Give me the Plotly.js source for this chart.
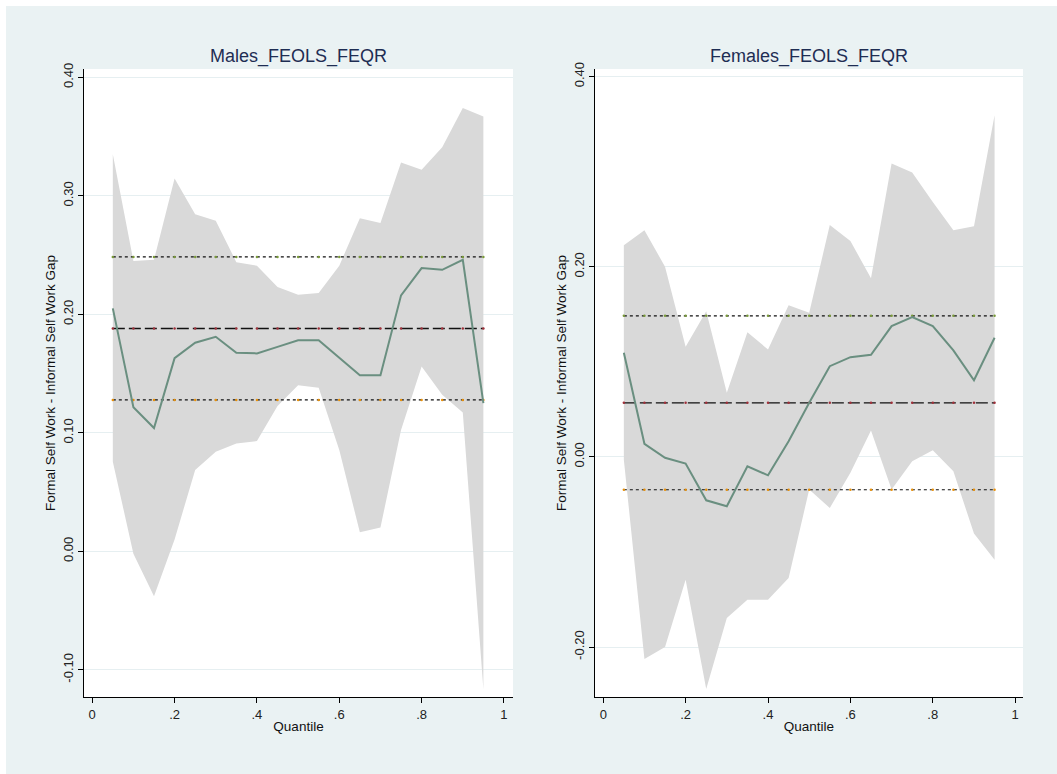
<!DOCTYPE html>
<html>
<head>
<meta charset="utf-8">
<script src="https://cdn.plot.ly/plotly-3.0.1.min.js"></script>
<style>
html,body{margin:0;padding:0;background:#ffffff;width:1057px;height:774px;overflow:hidden;}
#chart{position:absolute;left:6px;top:6px;width:1051px;height:768px;}
</style>
</head>
<body>
<div id="chart"></div>
<script>
// Quantiles
const quantiles = [0.05,0.10,0.15,0.20,0.25,0.30,0.35,0.40,0.45,0.50,0.55,0.60,0.65,0.70,0.75,0.80,0.85,0.90,0.95];

// Males
const malesEst   = [0.205,0.1215,0.104,0.163,0.176,0.181,0.1675,0.167,0.1725,0.178,0.178,0.163,0.1485,0.1485,0.216,0.239,0.2375,0.246,0.125];
const malesUpper = [0.335,0.245,0.246,0.3145,0.2845,0.279,0.244,0.241,0.223,0.2165,0.218,0.241,0.281,0.277,0.328,0.322,0.341,0.374,0.367];
const malesLower = [0.0756,-0.002,-0.038,0.010,0.0686,0.084,0.091,0.093,0.1226,0.140,0.138,0.0855,0.016,0.020,0.1024,0.156,0.132,0.117,-0.1165];
const malesOLS   = [0.1880];
const malesOLSLo = [0.1277];
const malesOLSHi = [0.2484];

// Females
const femalesEst   = [0.1095,0.0137,-0.001,-0.007,-0.0457,-0.052,-0.010,-0.0194,0.0164,0.057,0.0954,0.1049,0.1074,0.1375,0.147,0.1375,0.112,0.0806,0.1253];
const femalesUpper = [0.2227,0.2385,0.200,0.1158,0.1533,0.0674,0.1312,0.113,0.1596,0.1516,0.2438,0.227,0.188,0.3087,0.299,0.268,0.2385,0.2427,0.3593];
const femalesLower = [-0.003,-0.2126,-0.200,-0.1292,-0.2442,-0.1695,-0.1502,-0.1502,-0.1274,-0.0344,-0.0537,-0.0168,0.0277,-0.0344,-0.0046,0.007,-0.0152,-0.0807,-0.1081];
const femalesOLS   = [0.0568];
const femalesOLSLo = [-0.0346];
const femalesOLSHi = [0.1484];

// Tick labels
const xTickVals = [0,0.2,0.4,0.6,0.8,1];
const xTickText = ['0','.2','.4','.6','.8','1'];
const malesYTicks = [-0.10,0.00,0.10,0.20,0.30,0.40];
const malesYText = ['-0.10','0.00','0.10','0.20','0.30','0.40'];
const femalesYTicks = [-0.20,0.00,0.20,0.40];
const femalesYText = ['-0.20','0.00','0.20','0.40'];

const panelTitles = ['Males_FEOLS_FEQR','Females_FEOLS_FEQR'];
const yTitle = 'Formal Self Work - Informal Self Work Gap';
const xTitle = 'Quantile';

const FILL = '#d9d9d9';
const LINE = '#6a8f80';

function panel(est, up, lo, ols, olsLo, olsHi, xa, ya) {
  const tr = [];
  tr.push({
    x: quantiles.concat(quantiles.slice().reverse()),
    y: up.concat(lo.slice().reverse()),
    type: 'scatter', mode: 'lines', fill: 'toself', fillcolor: FILL,
    line: {width: 0, color: FILL}, hoverinfo: 'skip', showlegend: false,
    xaxis: xa, yaxis: ya
  });
  const flat = (v) => quantiles.map(() => v[0]);
  tr.push({x: quantiles, y: flat(olsHi), type:'scatter', mode:'lines+markers',
    line:{color:'#111111', width:1.2, dash:'dot'}, marker:{color:'#7a9a3a', size:2.5},
    showlegend:false, xaxis:xa, yaxis:ya});
  tr.push({x: quantiles, y: flat(olsLo), type:'scatter', mode:'lines+markers',
    line:{color:'#111111', width:1.2, dash:'dot'}, marker:{color:'#e8900a', size:2.5},
    showlegend:false, xaxis:xa, yaxis:ya});
  tr.push({x: quantiles, y: flat(ols), type:'scatter', mode:'lines+markers',
    line:{color:'#111111', width:1.4, dash:'12px,4px'}, marker:{color:'#a0303a', size:2.5},
    showlegend:false, xaxis:xa, yaxis:ya});
  tr.push({x: quantiles, y: est, type:'scatter', mode:'lines',
    line:{color:LINE, width:2}, showlegend:false, xaxis:xa, yaxis:ya});
  return tr;
}

const data = []
  .concat(panel(malesEst, malesUpper, malesLower, malesOLS, malesOLSLo, malesOLSHi, 'x', 'y'))
  .concat(panel(femalesEst, femalesUpper, femalesLower, femalesOLS, femalesOLSLo, femalesOLSHi, 'x2', 'y2'));

const FONT = 'Arial, "Liberation Sans", sans-serif';
const xaxisBase = {
  tickmode:'array', tickvals:xTickVals, ticktext:xTickText,
  showgrid:false, zeroline:false, showline:true, linecolor:'#000000', linewidth:1,
  ticks:'outside', ticklen:5, tickcolor:'#000000', tickfont:{size:13, color:'#222222', family:FONT},
  title:{text:xTitle, font:{size:13.5, color:'#111111', family:FONT}, standoff:0},
  fixedrange:true
};
const yaxisBase = {
  showgrid:true, gridcolor:'#e6eff1', gridwidth:1, zeroline:false,
  showline:true, linecolor:'#000000', linewidth:1,
  ticks:'outside', ticklen:5, tickcolor:'#000000', tickangle:-90,
  tickfont:{size:13, color:'#222222', family:FONT},
  title:{text:yTitle, font:{size:13.5, color:'#111111', family:FONT}, standoff:2},
  fixedrange:true
};

const layout = {
  width:1051, height:768,
  paper_bgcolor:'#eaf2f3', plot_bgcolor:'#ffffff',
  margin:{l:78, r:34, t:63, b:77},
  font:{family:FONT},
  showlegend:false,
  xaxis: Object.assign({}, xaxisBase, {domain:[0,0.4569], range:[-0.02,1.022], anchor:'y'}),
  yaxis: Object.assign({}, yaxisBase, {range:[-0.123,0.407], tickmode:'array', tickvals:malesYTicks, ticktext:malesYText, anchor:'x'}),
  xaxis2: Object.assign({}, xaxisBase, {domain:[0.5442,1], range:[-0.02,1.019], anchor:'y2'}),
  yaxis2: Object.assign({}, yaxisBase, {range:[-0.2526,0.408], tickmode:'array', tickvals:femalesYTicks, ticktext:femalesYText, anchor:'x2'}),
  annotations: [
    {text:panelTitles[0], xref:'paper', yref:'paper', x:0.2285, y:1, yshift:0, xanchor:'center', yanchor:'bottom',
     showarrow:false, font:{size:18, color:'#1e2d53', family:FONT}},
    {text:panelTitles[1], xref:'paper', yref:'paper', x:0.7721, y:1, yshift:0, xanchor:'center', yanchor:'bottom',
     showarrow:false, font:{size:18, color:'#1e2d53', family:FONT}}
  ]
};

Plotly.newPlot('chart', data, layout, {displayModeBar:false, staticPlot:true});
</script>
</body>
</html>
